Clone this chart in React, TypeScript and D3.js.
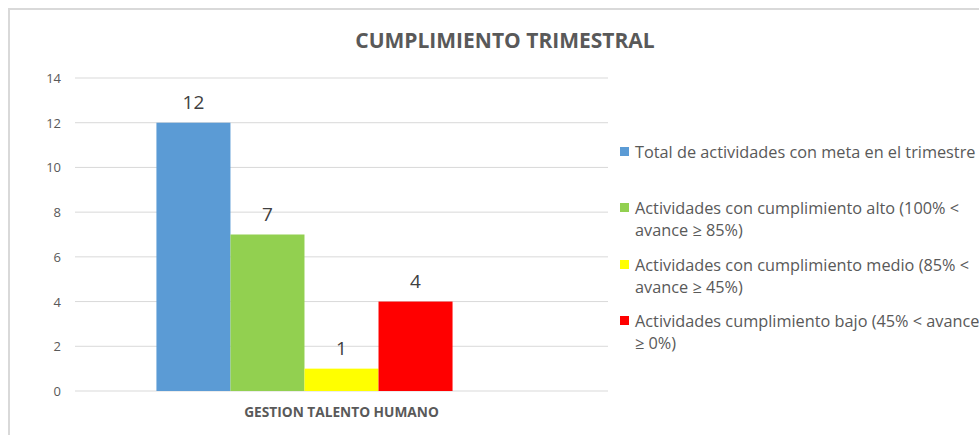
import React, { useEffect, useRef } from "react";
import * as d3 from "d3";

const categories = ["GESTION TALENTO HUMANO"];
const seriesNames = [
  "Total de actividades con meta en el trimestre",
  "Actividades con cumplimiento alto (100% < avance ≥ 85%)",
  "Actividades con cumplimiento medio (85% < avance ≥ 45%)",
  "Actividades cumplimiento bajo (45% < avance ≥ 0%)",
];
const seriesValues = [12, 7, 1, 4];
const seriesColors = ["#5b9bd5", "#92d050", "#ffff00", "#ff0000"];
const legendLines = [
  ["Total de actividades con meta en el trimestre"],
  ["Actividades con cumplimiento alto (100% <", "avance ≥ 85%)"],
  ["Actividades con cumplimiento medio (85% <", "avance ≥ 45%)"],
  ["Actividades cumplimiento bajo (45% < avance", "≥ 0%)"],
];
const yTicks = [0, 2, 4, 6, 8, 10, 12, 14];

const App = () => {
  const svgRef = useRef<SVGSVGElement>(null);

  useEffect(() => {
    const svg = d3.select(svgRef.current);
    svg.selectAll("*").remove();

    const W = 979;
    const H = 435;
    const plot = { left: 75, right: 608, top: 78, bottom: 391 };
    const font = "'Open Sans', sans-serif";

    svg.attr("width", W).attr("height", H);

    // chart frame
    svg.append("rect")
      .attr("x", 9)
      .attr("y", 9)
      .attr("width", W + 10)
      .attr("height", H + 10)
      .attr("fill", "#fff")
      .attr("stroke", "#d9d9d9")
      .attr("stroke-width", 2);

    svg.append("text")
      .attr("x", 505)
      .attr("y", 48)
      .attr("text-anchor", "middle")
      .style("font-family", font)
      .style("font-size", "21px")
      .style("font-weight", "bold")
      .style("fill", "#595959")
      .text("CUMPLIMIENTO TRIMESTRAL");

    const y = d3.scaleLinear().domain([0, 14]).range([plot.bottom, plot.top]);

    const x0 = d3.scaleBand()
      .domain(categories)
      .range([plot.left, plot.right])
      .paddingInner(0)
      .paddingOuter(0.22);

    // Excel leaves an empty fifth slot in the cluster
    const x1 = d3.scaleBand()
      .domain(seriesNames)
      .range([0, x0.bandwidth() * 0.8]);

    const g = svg.append("g");

    g.selectAll(".grid")
      .data(yTicks)
      .enter()
      .append("line")
      .attr("x1", plot.left)
      .attr("x2", plot.right)
      .attr("y1", (d) => y(d))
      .attr("y2", (d) => y(d))
      .attr("stroke", "#d9d9d9")
      .attr("stroke-width", 1);

    g.selectAll(".ytick")
      .data(yTicks)
      .enter()
      .append("text")
      .attr("x", 61)
      .attr("y", (d) => y(d) + 5)
      .attr("text-anchor", "end")
      .style("font-family", font)
      .style("font-size", "13px")
      .style("fill", "#595959")
      .text((d) => d);

    categories.forEach((c) => {
      const gx = x0(c)!;
      g.selectAll(".bar")
        .data(seriesValues)
        .enter()
        .append("rect")
        .attr("x", (d, i) => gx + x1(seriesNames[i])!)
        .attr("y", (d) => y(d))
        .attr("width", x1.bandwidth())
        .attr("height", (d) => plot.bottom - y(d))
        .attr("fill", (d, i) => seriesColors[i]);

      g.selectAll(".lbl")
        .data(seriesValues)
        .enter()
        .append("text")
        .attr("x", (d, i) => gx + x1(seriesNames[i])! + x1.bandwidth() / 2)
        .attr("y", (d) => y(d) - 14)
        .attr("text-anchor", "middle")
        .style("font-family", font)
        .style("font-size", "19px")
        .style("fill", "#404040")
        .text((d) => d);

      g.append("text")
        .attr("x", gx + x0.bandwidth() / 2)
        .attr("y", 417)
        .attr("text-anchor", "middle")
        .style("font-family", font)
        .style("font-size", "13.7px")
        .style("font-weight", "bold")
        .style("fill", "#595959")
        .text(c);
    });

    // legend
    const legendY = [152, 208, 265, 321];
    const lg = svg.append("g");
    legendLines.forEach((lines, i) => {
      lg.append("rect")
        .attr("x", 620)
        .attr("y", legendY[i] - 5)
        .attr("width", 9)
        .attr("height", 9)
        .attr("fill", seriesColors[i]);
      lines.forEach((t, j) => {
        lg.append("text")
          .attr("x", 635)
          .attr("y", legendY[i] + 6 + j * 22)
          .style("font-family", font)
          .style("font-size", "16.3px")
          .style("fill", "#595959")
          .text(t);
      });
    });
  }, []);

  return (
    <div style={{ position: "absolute", left: 0, top: 0 }}>
      <svg ref={svgRef} style={{ display: "block" }} />
    </div>
  );
};

export default App;
